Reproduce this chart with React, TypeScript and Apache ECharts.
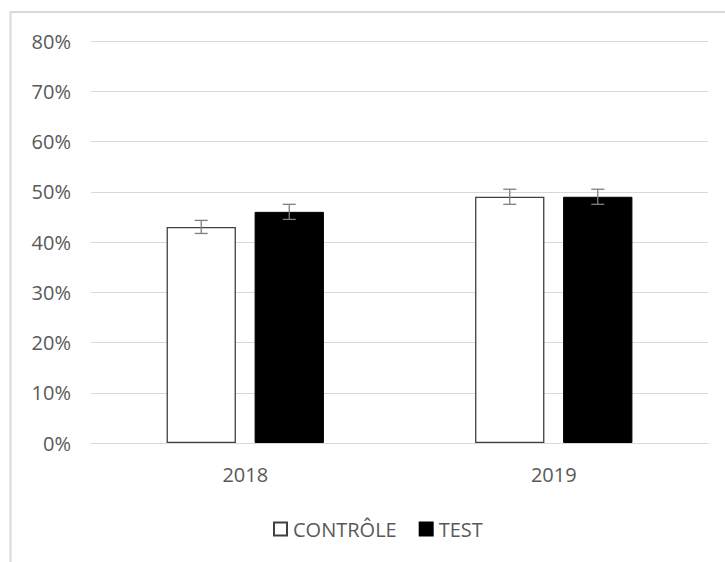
import React, { useEffect, useRef } from "react";
import * as echarts from "echarts";

const categories = ["2018", "2019"];
const controlValues = [0.43, 0.49];
const testValues = [0.46, 0.49];
const controlErrors = [0.013, 0.015];
const testErrors = [0.015, 0.015];
const seriesNames = ["CONTRÔLE", "TEST"];

const FONT = "'Open Sans', 'Segoe UI', sans-serif";
const TEXT_COLOR = "#595959";
const FS = 20;

export default function App() {
  const ref = useRef<HTMLDivElement>(null);
  useEffect(() => {
    if (!ref.current) return;
    const chart = echarts.init(ref.current, null, { renderer: "svg" });

    const makeErr = (values: number[], errs: number[], seriesIndex: number) => ({
      type: "custom",
      name: seriesNames[seriesIndex] + " err",
      silent: true,
      z: 10,
      data: values.map((v, i) => [i, v - errs[i], v + errs[i]]),
      renderItem: (params: any, api: any) => {
        const idx = api.value(0);
        const lowPt = api.coord([idx, api.value(1)]);
        const highPt = api.coord([idx, api.value(2)]);
        const band = api.size([1, 0])[0];
        const groupW = band * (1 - 0.49);
        const barW = groupW / (2 + 0.27);
        const center = lowPt[0];
        const offset =
          seriesIndex === 0
            ? -(barW * 0.27) / 2 - barW / 2
            : (barW * 0.27) / 2 + barW / 2;
        const x = center + offset;
        const cap = 6.5;
        const style = { stroke: "#7f7f7f", lineWidth: 1.3 };
        return {
          type: "group",
          children: [
            { type: "line", shape: { x1: x, y1: lowPt[1], x2: x, y2: highPt[1] }, style },
            { type: "line", shape: { x1: x - cap, y1: lowPt[1], x2: x + cap, y2: lowPt[1] }, style },
            { type: "line", shape: { x1: x - cap, y1: highPt[1], x2: x + cap, y2: highPt[1] }, style },
          ],
        };
      },
    });

    chart.setOption({
      animation: false,
      backgroundColor: "#ffffff",
      graphic: [
        {
          type: "rect",
          shape: { x: 10.5, y: 12, width: 800, height: 700 },
          style: { fill: "none", stroke: "#d9d9d9", lineWidth: 2 },
          silent: true,
          z: -1,
        },
      ],
      grid: { left: 91, right: 17, top: 41, bottom: 119, containLabel: false },
      legend: {
        data: seriesNames,
        top: 519,
        left: 273,
        icon: "rect",
        itemWidth: 13,
        itemHeight: 13,
        itemGap: 22,
        textStyle: { color: TEXT_COLOR, fontSize: FS, fontFamily: FONT, padding: [0, 0, 0, 1] },
        padding: 0,
      },
      xAxis: {
        type: "category",
        data: categories,
        axisLine: { lineStyle: { color: "#d9d9d9" } },
        axisTick: { show: false },
        axisLabel: { color: TEXT_COLOR, fontSize: FS, fontFamily: FONT, margin: 21 },
      },
      yAxis: {
        type: "value",
        min: 0,
        max: 0.8,
        interval: 0.1,
        axisLine: { show: false },
        axisTick: { show: false },
        splitLine: { lineStyle: { color: "#d9d9d9" } },
        axisLabel: {
          color: TEXT_COLOR,
          fontSize: FS,
          fontFamily: FONT,
          margin: 20,
          formatter: (v: number) => Math.round(v * 100) + "%",
        },
      },
      series: [
        {
          type: "bar",
          name: seriesNames[0],
          data: controlValues,
          barCategoryGap: "49%",
          barGap: "27%",
          itemStyle: { color: "#ffffff", borderColor: "#404040", borderWidth: 1.3 },
        },
        {
          type: "bar",
          name: seriesNames[1],
          data: testValues,
          itemStyle: { color: "#000000", borderColor: "#000000", borderWidth: 1 },
        },
        makeErr(controlValues, controlErrors, 0),
        makeErr(testValues, testErrors, 1),
      ],
    });
    return () => chart.dispose();
  }, []);
  return (
    <div
      ref={ref}
      style={{ position: "absolute", left: 0, top: 0, width: 725, height: 562 }}
    />
  );
}
